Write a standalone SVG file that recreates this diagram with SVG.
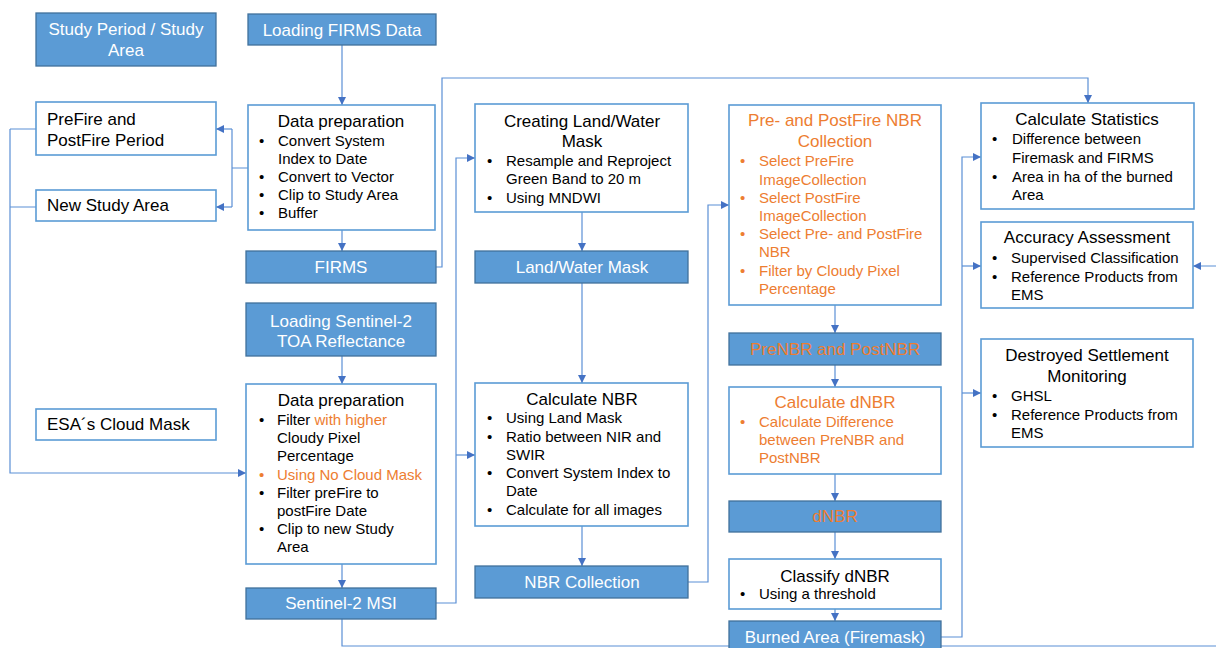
<svg xmlns="http://www.w3.org/2000/svg" width="1216" height="648" viewBox="0 0 1216 648">
<defs>
<marker id="ah" markerWidth="10" markerHeight="10" refX="9" refY="5" orient="auto" markerUnits="userSpaceOnUse">
<path d="M1,1 L9,5 L1,9 Z" fill="#4472C4"/>
</marker>
<style>
.b{fill:#5B9BD5;stroke:#41719C;stroke-width:1.3}
.w{fill:#fff;stroke:#5B9BD5;stroke-width:1.6}
.c{fill:none;stroke:#5B8FD5;stroke-width:1.2;marker-end:url(#ah)}
.l{fill:none;stroke:#5B8FD5;stroke-width:1.2}
text{font-family:"Liberation Sans",Arial,sans-serif;fill:#000}
.t{font-size:17px}
.s{font-size:15px}
text.wt{fill:#fff;font-size:17px;text-anchor:middle}
text.ot{fill:#ED7D31;font-size:17px;text-anchor:middle}
.m{text-anchor:middle}
.o, .o text, tspan.o{fill:#ED7D31}
</style>
</defs>
<rect width="1216" height="648" fill="#fff"/>
<g id="connectors">
<path class="c" d="M342,45 V105"/>
<path class="l" d="M248,168 H232 M232,129 V207"/>
<path class="c" d="M232,129 H216"/>
<path class="c" d="M232,207 H216"/>
<path class="c" d="M342,230 V251"/>
<path class="c" d="M436,267 H442 V78 H1088 V103"/>
<path class="c" d="M342,356 V384"/>
<path class="l" d="M36,129 H10 M36,207 H10"/>
<path class="c" d="M10,129 V473 H246"/>
<path class="c" d="M342,564 V588"/>
<path class="c" d="M436,603 H456 V158 H475"/>
<path class="c" d="M456,455 H475"/>
<path class="c" d="M342,619 V646 H1230 V266 H1193"/>
<path class="c" d="M582,212 V251"/>
<path class="c" d="M582,283 V383"/>
<path class="c" d="M582,526 V566"/>
<path class="c" d="M688,582 H708 V205 H729"/>
<path class="c" d="M835,305 V333"/>
<path class="c" d="M835,365 V387"/>
<path class="c" d="M835,474 V501"/>
<path class="c" d="M835,532 V559"/>
<path class="c" d="M835,609 V621"/>
<path class="c" d="M941,637 H962 V157 H981"/>
<path class="c" d="M962,266 H981"/>
<path class="c" d="M962,393 H981"/>
</g>
<g id="study-period">
<rect class="b" x="36" y="13" width="180" height="53"/>
<text class="wt" x="126" y="35">Study Period / Study</text>
<text class="wt" x="126" y="56">Area</text>
</g>
<g id="loading-firms">
<rect class="b" x="248" y="14" width="188" height="31"/>
<text class="wt" x="342" y="36">Loading FIRMS Data</text>
</g>
<g id="prefire-period">
<rect class="w" x="36" y="102" width="180" height="53"/>
<text class="t" x="47" y="125">PreFire and</text>
<text class="t" x="47" y="146">PostFire Period</text>
</g>
<g id="new-study-area">
<rect class="w" x="36" y="190" width="180" height="31"/>
<text class="t" x="47" y="211">New Study Area</text>
</g>
<g id="firms-prep">
<rect class="w" x="248" y="105" width="187" height="125"/>
<text class="t m" x="341" y="127">Data preparation</text>
<g class="s">
<text x="259" y="146">•</text><text x="278" y="146">Convert System</text>
<text x="278" y="164">Index to Date</text>
<text x="259" y="182">•</text><text x="278" y="182">Convert to Vector</text>
<text x="259" y="200">•</text><text x="278" y="200">Clip to Study Area</text>
<text x="259" y="218">•</text><text x="278" y="218">Buffer</text>
</g>
</g>
<g id="firms">
<rect class="b" x="246" y="251" width="190" height="32"/>
<text class="wt" x="341" y="273">FIRMS</text>
</g>
<g id="loading-s2">
<rect class="b" x="246" y="303" width="190" height="53"/>
<text class="wt" x="341" y="327">Loading Sentinel-2</text>
<text class="wt" x="341" y="347">TOA Reflectance</text>
</g>
<g id="esa-cloud-mask">
<rect class="w" x="36" y="409" width="180" height="31"/>
<text class="t" x="47" y="430">ESA´s Cloud Mask</text>
</g>
<g id="s2-prep">
<rect class="w" x="246" y="384" width="190" height="180"/>
<text class="t m" x="341" y="406">Data preparation</text>
<g class="s">
<text x="259" y="425">•</text><text x="277" y="425">Filter <tspan class="o">with higher</tspan></text>
<text x="277" y="443">Cloudy Pixel</text>
<text x="277" y="461">Percentage</text>
<text class="o" x="259" y="480">•</text><text class="o" x="277" y="480">Using No Cloud Mask</text>
<text x="259" y="498">•</text><text x="277" y="498">Filter preFire to</text>
<text x="277" y="516">postFire Date</text>
<text x="259" y="534">•</text><text x="277" y="534">Clip to new Study</text>
<text x="277" y="552">Area</text>
</g>
</g>
<g id="s2-msi">
<rect class="b" x="246" y="588" width="190" height="31"/>
<text class="wt" x="341" y="609">Sentinel-2 MSI</text>
</g>
<g id="land-water-creation">
<rect class="w" x="475" y="104" width="213" height="108"/>
<text class="t m" x="582" y="127">Creating Land/Water</text>
<text class="t m" x="582" y="147">Mask</text>
<g class="s">
<text x="487" y="166">•</text><text x="506" y="166">Resample and Reproject</text>
<text x="506" y="184">Green Band to 20 m</text>
<text x="487" y="203">•</text><text x="506" y="203">Using MNDWI</text>
</g>
</g>
<g id="land-water-mask">
<rect class="b" x="475" y="251" width="213" height="32"/>
<text class="wt" x="582" y="273">Land/Water Mask</text>
</g>
<g id="calc-nbr">
<rect class="w" x="475" y="383" width="213" height="143"/>
<text class="t m" x="582" y="405">Calculate NBR</text>
<g class="s">
<text x="487" y="423">•</text><text x="506" y="423">Using Land Mask</text>
<text x="487" y="442">•</text><text x="506" y="442">Ratio between NIR and</text>
<text x="506" y="460">SWIR</text>
<text x="487" y="478">•</text><text x="506" y="478">Convert System Index to</text>
<text x="506" y="496">Date</text>
<text x="487" y="515">•</text><text x="506" y="515">Calculate for all images</text>
</g>
</g>
<g id="nbr-collection">
<rect class="b" x="475" y="566" width="213" height="32"/>
<text class="wt" x="582" y="588">NBR Collection</text>
</g>
<g id="pre-post-collection">
<rect class="w" x="729" y="105" width="212" height="200"/>
<text class="ot" x="835" y="126">Pre- and PostFire NBR</text>
<text class="ot" x="835" y="147">Collection</text>
<g class="s o">
<text x="740" y="166">•</text><text x="759" y="166">Select PreFire</text>
<text x="759" y="185">ImageCollection</text>
<text x="740" y="203">•</text><text x="759" y="203">Select PostFire</text>
<text x="759" y="221">ImageCollection</text>
<text x="740" y="239">•</text><text x="759" y="239">Select Pre- and PostFire</text>
<text x="759" y="257">NBR</text>
<text x="740" y="276">•</text><text x="759" y="276">Filter by Cloudy Pixel</text>
<text x="759" y="294">Percentage</text>
</g>
</g>
<g id="prenbr-postnbr">
<rect class="b" x="729" y="333" width="212" height="32"/>
<text class="ot" x="835" y="355">PreNBR and PostNBR</text>
</g>
<g id="calc-dnbr">
<rect class="w" x="729" y="387" width="212" height="87"/>
<text class="ot" x="835" y="408">Calculate dNBR</text>
<g class="s o">
<text x="740" y="427">•</text><text x="759" y="427">Calculate Difference</text>
<text x="759" y="445">between PreNBR and</text>
<text x="759" y="463">PostNBR</text>
</g>
</g>
<g id="dnbr">
<rect class="b" x="729" y="501" width="212" height="31"/>
<text class="ot" x="835" y="522">dNBR</text>
</g>
<g id="classify-dnbr">
<rect class="w" x="729" y="559" width="212" height="50"/>
<text class="t m" x="835" y="582">Classify dNBR</text>
<g class="s">
<text x="740" y="599">•</text><text x="759" y="599">Using a threshold</text>
</g>
</g>
<g id="burned-area">
<rect class="b" x="729" y="621" width="212" height="32"/>
<text class="wt" x="835" y="643">Burned Area (Firemask)</text>
</g>
<g id="calc-statistics">
<rect class="w" x="981" y="103" width="213" height="106"/>
<text class="t m" x="1087" y="125">Calculate Statistics</text>
<g class="s">
<text x="992" y="144">•</text><text x="1012" y="144">Difference between</text>
<text x="1012" y="163">Firemask and FIRMS</text>
<text x="992" y="182">•</text><text x="1012" y="182">Area in ha of the burned</text>
<text x="1012" y="200">Area</text>
</g>
</g>
<g id="accuracy-assessment">
<rect class="w" x="981" y="222" width="212" height="86"/>
<text class="t m" x="1087" y="243">Accuracy Assessment</text>
<g class="s">
<text x="992" y="263">•</text><text x="1011" y="263">Supervised Classification</text>
<text x="992" y="282">•</text><text x="1011" y="282">Reference Products from</text>
<text x="1011" y="300">EMS</text>
</g>
</g>
<g id="destroyed-settlement">
<rect class="w" x="981" y="339" width="212" height="108"/>
<text class="t m" x="1087" y="361">Destroyed Settlement</text>
<text class="t m" x="1087" y="382">Monitoring</text>
<g class="s">
<text x="992" y="401">•</text><text x="1011" y="401">GHSL</text>
<text x="992" y="420">•</text><text x="1011" y="420">Reference Products from</text>
<text x="1011" y="438">EMS</text>
</g>
</g>
</svg>
